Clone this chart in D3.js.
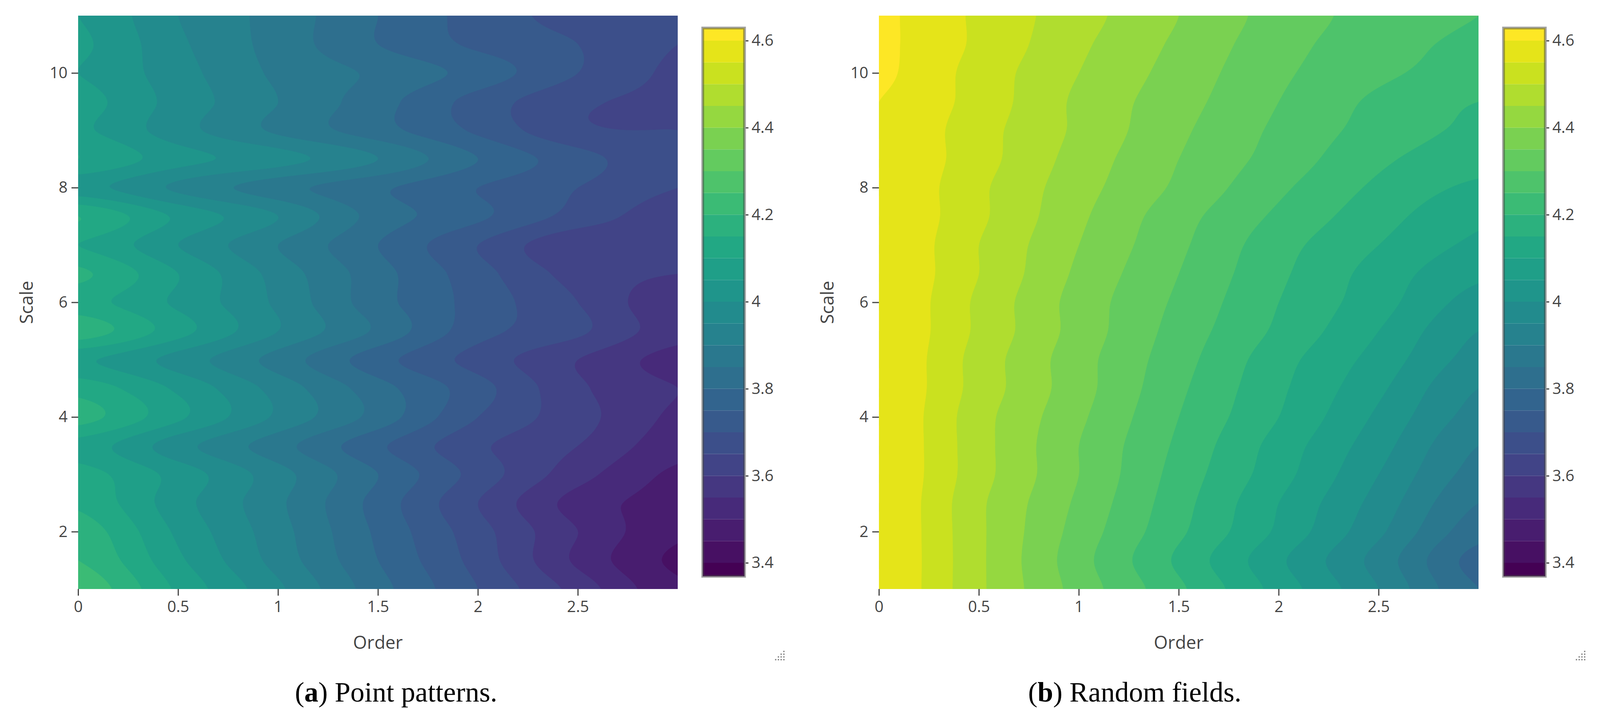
<!DOCTYPE html>
<html>
<head>
<meta charset="utf-8">
<script src="https://cdn.jsdelivr.net/npm/d3@7"></script>
<style>
body { margin: 0; background: #fff; }
</style>
</head>
<body>
<script>
// grid: columns are Order 0..3 step 0.5, rows are Scale 1..11 step 0.5
const orders = [0, 0.5, 1, 1.5, 2, 2.5, 3];
const scales = [1, 1.5, 2, 2.5, 3, 3.5, 4, 4.5, 5, 5.5, 6, 6.5, 7, 7.5, 8, 8.5, 9, 9.5, 10, 10.5, 11];

const pointPatterns = [
    [4.24, 4.09, 3.96, 3.82, 3.70, 3.58, 3.46],
    [4.20, 4.06, 3.93, 3.80, 3.68, 3.54, 3.44],
    [4.18, 4.04, 3.92, 3.79, 3.67, 3.55, 3.46],
    [4.14, 4.02, 3.91, 3.78, 3.65, 3.53, 3.48],
    [4.12, 4.03, 3.92, 3.80, 3.68, 3.57, 3.49],
    [4.08, 3.97, 3.87, 3.76, 3.66, 3.60, 3.52],
    [4.17, 4.06, 3.94, 3.83, 3.70, 3.62, 3.54],
    [4.13, 4.04, 3.93, 3.82, 3.72, 3.61, 3.55],
    [4.06, 3.98, 3.88, 3.77, 3.68, 3.60, 3.53],
    [4.18, 4.07, 3.95, 3.84, 3.72, 3.66, 3.57],
    [4.12, 4.04, 3.94, 3.82, 3.73, 3.65, 3.56],
    [4.16, 4.05, 3.93, 3.82, 3.72, 3.63, 3.60],
    [4.10, 4.00, 3.90, 3.80, 3.70, 3.61, 3.63],
    [4.15, 4.04, 3.95, 3.83, 3.76, 3.68, 3.62],
    [4.02, 3.94, 3.87, 3.81, 3.75, 3.70, 3.65],
    [4.10, 4.02, 3.97, 3.90, 3.80, 3.72, 3.66],
    [4.06, 3.97, 3.89, 3.82, 3.74, 3.66, 3.65],
    [4.07, 3.98, 3.90, 3.82, 3.73, 3.66, 3.64],
    [4.05, 3.97, 3.89, 3.84, 3.78, 3.70, 3.64],
    [4.06, 3.96, 3.88, 3.80, 3.74, 3.70, 3.65],
    [4.05, 3.95, 3.88, 3.80, 3.73, 3.68, 3.66]
];

const randomFields = [
    [4.60, 4.46, 4.33, 4.21, 4.08, 3.95, 3.80],
    [4.60, 4.46, 4.32, 4.19, 4.06, 3.93, 3.78],
    [4.60, 4.46, 4.33, 4.21, 4.09, 3.96, 3.82],
    [4.60, 4.46, 4.34, 4.22, 4.10, 3.98, 3.85],
    [4.60, 4.47, 4.35, 4.23, 4.12, 4.00, 3.88],
    [4.60, 4.47, 4.35, 4.24, 4.13, 4.02, 3.90],
    [4.60, 4.47, 4.36, 4.25, 4.15, 4.04, 3.93],
    [4.60, 4.48, 4.37, 4.26, 4.16, 4.06, 3.95],
    [4.60, 4.48, 4.37, 4.27, 4.17, 4.08, 3.98],
    [4.60, 4.49, 4.38, 4.28, 4.19, 4.10, 4.00],
    [4.60, 4.49, 4.38, 4.29, 4.20, 4.12, 4.03],
    [4.60, 4.50, 4.39, 4.30, 4.21, 4.13, 4.06],
    [4.60, 4.50, 4.40, 4.31, 4.22, 4.15, 4.09],
    [4.60, 4.51, 4.41, 4.32, 4.24, 4.17, 4.11],
    [4.60, 4.51, 4.42, 4.34, 4.26, 4.19, 4.14],
    [4.60, 4.52, 4.43, 4.35, 4.28, 4.21, 4.17],
    [4.60, 4.52, 4.44, 4.36, 4.29, 4.23, 4.19],
    [4.60, 4.53, 4.44, 4.37, 4.30, 4.24, 4.20],
    [4.61, 4.53, 4.45, 4.38, 4.31, 4.26, 4.23],
    [4.61, 4.54, 4.46, 4.39, 4.32, 4.27, 4.24],
    [4.61, 4.54, 4.47, 4.40, 4.33, 4.28, 4.25]
];

const xTicks = [0, 0.5, 1, 1.5, 2, 2.5];
const yTicks = [2, 4, 6, 8, 10];
const cbTicks = [3.4, 3.6, 3.8, 4, 4.2, 4.4, 4.6];
const levels = d3.range(0, 27).map(i => +(3.35 + i * 0.05).toFixed(2));
const cbRange = [3.369, 4.629];

const panels = [
    { z: pointPatterns, x0: 200, tag: "a", caption: " Point patterns.", cx: 1014 },
    { z: randomFields, x0: 2250, tag: "b", caption: " Random fields.", cx: 2905 }
];

const W = 4117, H = 1814;
const plotTop = 40, plotBottom = 1507, plotW = 1535;
const tickCol = "#444";
const font = "'Open Sans', 'Noto Sans', sans-serif";

const svg = d3.select("body").append("svg")
    .attr("width", W).attr("height", H);

// catmull-rom upsampling, just for smooth contour lines
function cr(p0, p1, p2, p3, t) {
    return 0.5 * ((2 * p1) + (-p0 + p2) * t + (2 * p0 - 5 * p1 + 4 * p2 - p3) * t * t + (-p0 + 3 * p1 - 3 * p2 + p3) * t * t * t);
}
function upsample(z, fx, fy) {
    const ny = z.length, nx = z[0].length;
    const get = (j, i) => z[Math.max(0, Math.min(ny - 1, j))][Math.max(0, Math.min(nx - 1, i))];
    const NX = (nx - 1) * fx + 1, NY = (ny - 1) * fy + 1;
    const out = new Array(NX * NY);
    for (let J = 0; J < NY; J++) {
        const j = Math.min(ny - 2, Math.floor(J / fy)), tj = J / fy - j;
        for (let I = 0; I < NX; I++) {
            const i = Math.min(nx - 2, Math.floor(I / fx)), ti = I / fx - i;
            const col = [-1, 0, 1, 2].map(d => cr(get(j + d, i - 1), get(j + d, i), get(j + d, i + 1), get(j + d, i + 2), ti));
            out[J * NX + I] = cr(col[0], col[1], col[2], col[3], tj);
        }
    }
    return { values: out, NX, NY };
}

const colorOf = lv => d3.interpolateViridis(Math.max(0, Math.min(1, (lv + 0.025 - 3.375) / 1.25)));

const fx = 30, fy = 20;

panels.forEach((p, k) => {
    const x = d3.scaleLinear().domain([0, 3]).range([p.x0, p.x0 + plotW]);
    const y = d3.scaleLinear().domain([1, 11]).range([plotBottom, plotTop]);
    const g = svg.append("g");

    const clipId = "clip" + k;
    svg.append("clipPath").attr("id", clipId).append("rect")
        .attr("x", x(0)).attr("y", y(11)).attr("width", plotW).attr("height", plotBottom - plotTop);

    const up = upsample(p.z, fx, fy);
    const contours = d3.contours().size([up.NX, up.NY]).thresholds(levels)(up.values);
    const proj = d3.geoTransform({
        point(px, py) {
            this.stream.point(
                x(orders[0] + (px - 0.5) / fx * 0.5),
                y(scales[0] + (py - 0.5) / fy * 0.5)
            );
        }
    });
    const path = d3.geoPath(proj);
    g.append("g").attr("clip-path", `url(#${clipId})`)
        .selectAll("path").data(contours).join("path")
        .attr("d", path)
        .attr("fill", d => colorOf(d.value))
        .attr("stroke", d => colorOf(d.value))
        .attr("stroke-width", 1);

    // axes
    const xa = g.append("g").attr("transform", `translate(0,${plotBottom})`)
        .call(d3.axisBottom(x).tickValues(xTicks).tickSize(17).tickPadding(14).tickFormat(d3.format("")));
    const ya = g.append("g").attr("transform", `translate(${x(0)},0)`)
        .call(d3.axisLeft(y).tickValues(yTicks).tickSize(17).tickPadding(10));
    [xa, ya].forEach(a => {
        a.select(".domain").remove();
        a.selectAll("line").attr("stroke", tickCol).attr("stroke-width", 3);
        a.selectAll("text").attr("fill", tickCol).style("font-family", font).style("font-size", "40px");
    });

    g.append("text").attr("x", x(1.5)).attr("y", 1660).attr("text-anchor", "middle")
        .attr("fill", tickCol).style("font-family", font).style("font-size", "46px").text("Order");
    g.append("text").attr("transform", `translate(${p.x0 - 132},${(plotTop + plotBottom) / 2}) rotate(-90)`)
        .attr("text-anchor", "middle").attr("dy", "0.35em")
        .attr("fill", tickCol).style("font-family", font).style("font-size", "46px").text("Scale");

    // colorbar
    const cbx = p.x0 + plotW + 64, cbw = 107;
    const cy = d3.scaleLinear().domain([3.4, 4.6]).range([1440, 104]);
    const cb = g.append("g");
    cb.selectAll("rect.band").data(levels.slice(0, -1)).join("rect")
        .attr("class", "band")
        .attr("x", cbx).attr("width", cbw)
        .attr("y", d => cy(Math.min(d + 0.05, cbRange[1])))
        .attr("height", d => Math.max(0, cy(Math.max(d, cbRange[0])) - cy(Math.min(d + 0.05, cbRange[1]))))
        .attr("fill", d => colorOf(d));
    cb.append("rect").attr("x", cbx).attr("y", cy(cbRange[1])).attr("width", cbw)
        .attr("height", cy(cbRange[0]) - cy(cbRange[1]))
        .attr("fill", "none").attr("stroke", "#444").attr("stroke-opacity", 0.5).attr("stroke-width", 7);
    const ca = cb.append("g").attr("transform", `translate(${cbx + cbw + 3},0)`)
        .call(d3.axisRight(cy).tickValues(cbTicks).tickSize(7).tickPadding(8).tickFormat(d3.format("")));
    ca.select(".domain").remove();
    ca.selectAll("line").attr("stroke", tickCol).attr("stroke-width", 3);
    ca.selectAll("text").attr("fill", tickCol).style("font-family", font).style("font-size", "40px");

    // resize grip dots
    const gx = p.x0 + plotW + 270, gy = 1665;
    const dots = [[0, 0], [-7, 7], [0, 7], [-14, 14], [-7, 14], [0, 14], [-21, 21], [-14, 21], [-7, 21], [0, 21]];
    g.selectAll("rect.grip").data(dots).join("rect").attr("class", "grip")
        .attr("x", d => gx + d[0]).attr("y", d => gy + d[1]).attr("width", 3.5).attr("height", 3.5)
        .attr("fill", "#888");

    // caption
    const t = g.append("text").attr("x", p.cx).attr("y", 1795).attr("text-anchor", "middle")
        .style("font-family", "'Liberation Serif', 'DejaVu Serif', serif").style("font-size", "72px").attr("fill", "#000");
    t.append("tspan").text("(");
    t.append("tspan").attr("font-weight", "bold").text(p.tag);
    t.append("tspan").text(")" + p.caption);
});
</script>
</body>
</html>
